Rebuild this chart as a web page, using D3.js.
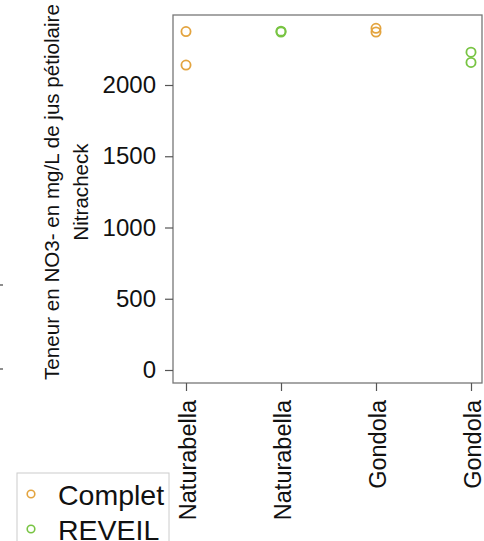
<!DOCTYPE html>
<html>
<head>
<meta charset="utf-8">
<script src="https://cdn.jsdelivr.net/npm/d3@7"></script>
<style>
  html, body { margin: 0; padding: 0; background: #fff; }
  svg { display: block; font-family: "Liberation Sans", Arial, sans-serif; }
</style>
</head>
<body>
<svg id="chart" width="484" height="541"></svg>
<script>
// Sample positions along the x axis (one per column)
const categories = ["Naturabella", "Naturabella", "Gondola", "Gondola"];
// Nitracheck readings per column, with the treatment of each column
const treatments = ["Complet", "REVEIL", "Complet", "REVEIL"];
const readings = [
  [2375, 2140],
  [2378, 2372],
  [2398, 2372],
  [2230, 2158]
];
const yTicks = [0, 500, 1000, 1500, 2000];
const legendLabels = ["Complet", "REVEIL"];
const colors = { "Complet": "#E3A43F", "REVEIL": "#78C443" };

const svg = d3.select("#chart");
const plot = { left: 173, top: 15, right: 482, bottom: 383 };
const font = "Liberation Sans, Arial, sans-serif";

const x = d3.scalePoint()
  .domain(d3.range(categories.length))
  .range([186, 471]);

const y = d3.scaleLinear()
  .domain([0, 2000])
  .range([370, 85]);

// Plot frame
svg.append("rect")
  .attr("x", plot.left).attr("y", plot.top)
  .attr("width", plot.right - plot.left).attr("height", plot.bottom - plot.top)
  .attr("fill", "none").attr("stroke", "#777").attr("stroke-width", 1.3);

// Y axis
const yAxis = svg.append("g")
  .attr("transform", `translate(${plot.left},0)`)
  .call(d3.axisLeft(y).tickValues(yTicks).tickFormat(d3.format("d")).tickSize(8).tickPadding(9));
yAxis.select(".domain").remove();
yAxis.selectAll(".tick line").attr("stroke", "#555").attr("stroke-width", 1.2);
yAxis.selectAll(".tick text")
  .attr("font-size", 24).attr("fill", "#111").attr("font-family", font);

// X axis with rotated labels
const xAxis = svg.append("g")
  .attr("transform", `translate(0,${plot.bottom})`)
  .call(d3.axisBottom(x).tickFormat(i => categories[i]).tickSize(8).tickPadding(0));
xAxis.select(".domain").remove();
xAxis.selectAll(".tick line").attr("stroke", "#555").attr("stroke-width", 1.2);
xAxis.selectAll(".tick text")
  .attr("font-size", 23.5).attr("fill", "#111").attr("font-family", font)
  .attr("text-anchor", "end")
  .attr("dy", "0.35em")
  .attr("transform", "translate(1,17) rotate(-90)")
  .attr("x", 0).attr("y", 0);

// Y axis title (two lines)
const title = svg.append("text")
  .attr("transform", "translate(0,192) rotate(-90)")
  .attr("text-anchor", "middle")
  .attr("font-size", 20.6).attr("fill", "#111");
title.append("tspan").attr("x", 0).attr("y", 59).text("Teneur en NO3- en mg/L de jus pétiolaire");
title.append("tspan").attr("x", 0).attr("y", 88).text("Nitracheck");

// Points
readings.forEach((vals, i) => {
  svg.append("g").selectAll("circle")
    .data(vals)
    .join("circle")
    .attr("cx", x(i))
    .attr("cy", d => y(d))
    .attr("r", 4.6)
    .attr("fill", "none")
    .attr("stroke", colors[treatments[i]])
    .attr("stroke-width", 1.8);
});

// Small stray marks at the left edge
[285, 369].forEach(yy => {
  svg.append("line")
    .attr("x1", 0).attr("x2", 3).attr("y1", yy).attr("y2", yy)
    .attr("stroke", "#444").attr("stroke-width", 1.2);
});

// Legend
const legend = svg.append("g");
legend.append("rect")
  .attr("x", 17).attr("y", 473).attr("width", 152).attr("height", 80)
  .attr("fill", "#fff").attr("stroke", "#ccc").attr("stroke-width", 1);
legendLabels.forEach((lab, i) => {
  const base = 505 + i * 35;
  legend.append("circle")
    .attr("cx", 31).attr("cy", base - 11).attr("r", 3.8)
    .attr("fill", "none").attr("stroke", colors[lab]).attr("stroke-width", 1.6);
  legend.append("text")
    .attr("x", 58).attr("y", base)
    .attr("font-size", 28.5).attr("fill", "#111").text(lab);
});
</script>
</body>
</html>
